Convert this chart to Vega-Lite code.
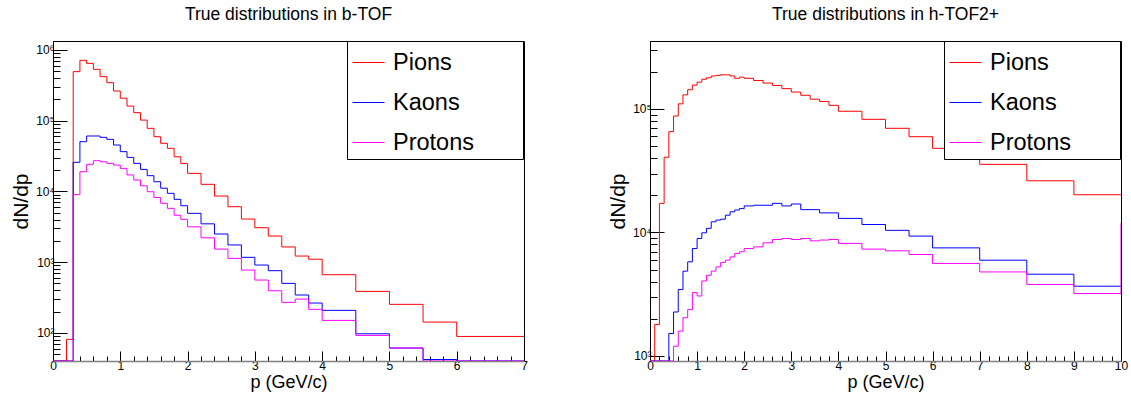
{
  "$schema": "https://vega.github.io/schema/vega-lite/v6.json",
  "background": "white",
  "padding": {"left": 9, "top": 5, "right": 5, "bottom": 5},
  "config": {
    "font": "Liberation Sans",
    "view": {"stroke": "#000", "strokeWidth": 1},
    "axis": {"grid": false, "labelFont": "Liberation Sans", "labelColor": "#000", "labelFontSize": 12, "tickColor": "#000", "titleColor": "#000", "titleFont": "Liberation Sans", "titleFontWeight": "normal", "labelOverlap": false, "labelBound": false, "labelFlush": false},
    "title": {"fontSize": 17.5, "fontWeight": "normal", "font": "Liberation Sans", "color": "#000", "baseline": "alphabetic", "offset": 17},
    "legend": {"orient": "none", "legendX": 294, "legendY": 0, "titleOrient": "right", "titleOpacity": 0, "titleFontSize": 2, "titlePadding": 36, "symbolType": "stroke", "symbolSize": 1024, "symbolStrokeWidth": 1, "labelFontSize": 23.5, "labelFont": "Liberation Sans", "labelColor": "#000", "labelOffset": 8, "rowPadding": 12, "padding": 5, "strokeColor": "#000", "fillColor": "#fff"}
  },
  "datasets": {
    "btof": [
      {"species": "Pions", "p": 0, "dndp": 0},
      {"species": "Pions", "p": 0.1, "dndp": 0},
      {"species": "Pions", "p": 0.2, "dndp": 81},
      {"species": "Pions", "p": 0.3, "dndp": 494000},
      {"species": "Pions", "p": 0.4, "dndp": 714000},
      {"species": "Pions", "p": 0.5, "dndp": 648000},
      {"species": "Pions", "p": 0.6, "dndp": 533000},
      {"species": "Pions", "p": 0.7, "dndp": 420000},
      {"species": "Pions", "p": 0.8, "dndp": 345000},
      {"species": "Pions", "p": 0.9, "dndp": 263000},
      {"species": "Pions", "p": 1.0, "dndp": 208000},
      {"species": "Pions", "p": 1.1, "dndp": 161000},
      {"species": "Pions", "p": 1.2, "dndp": 130000},
      {"species": "Pions", "p": 1.3, "dndp": 102000},
      {"species": "Pions", "p": 1.4, "dndp": 78000},
      {"species": "Pions", "p": 1.5, "dndp": 59400},
      {"species": "Pions", "p": 1.6, "dndp": 47900},
      {"species": "Pions", "p": 1.7, "dndp": 40700},
      {"species": "Pions", "p": 1.8, "dndp": 30900},
      {"species": "Pions", "p": 1.9, "dndp": 24900},
      {"species": "Pions", "p": 2.0, "dndp": 18000},
      {"species": "Pions", "p": 2.2, "dndp": 12600},
      {"species": "Pions", "p": 2.4, "dndp": 8600},
      {"species": "Pions", "p": 2.6, "dndp": 6080},
      {"species": "Pions", "p": 2.8, "dndp": 4070},
      {"species": "Pions", "p": 3.0, "dndp": 3070},
      {"species": "Pions", "p": 3.2, "dndp": 2340},
      {"species": "Pions", "p": 3.4, "dndp": 1640},
      {"species": "Pions", "p": 3.6, "dndp": 1220},
      {"species": "Pions", "p": 3.8, "dndp": 1100},
      {"species": "Pions", "p": 4.0, "dndp": 664},
      {"species": "Pions", "p": 4.5, "dndp": 386},
      {"species": "Pions", "p": 5.0, "dndp": 253},
      {"species": "Pions", "p": 5.5, "dndp": 142},
      {"species": "Pions", "p": 6.0, "dndp": 89},
      {"species": "Pions", "p": 7.0, "dndp": 89},
      {"species": "Kaons", "p": 0, "dndp": 0},
      {"species": "Kaons", "p": 0.1, "dndp": 0},
      {"species": "Kaons", "p": 0.2, "dndp": 0},
      {"species": "Kaons", "p": 0.3, "dndp": 25800},
      {"species": "Kaons", "p": 0.4, "dndp": 50500},
      {"species": "Kaons", "p": 0.5, "dndp": 60800},
      {"species": "Kaons", "p": 0.6, "dndp": 60800},
      {"species": "Kaons", "p": 0.7, "dndp": 58200},
      {"species": "Kaons", "p": 0.8, "dndp": 54500},
      {"species": "Kaons", "p": 0.9, "dndp": 45300},
      {"species": "Kaons", "p": 1.0, "dndp": 36500},
      {"species": "Kaons", "p": 1.1, "dndp": 30300},
      {"species": "Kaons", "p": 1.2, "dndp": 24900},
      {"species": "Kaons", "p": 1.3, "dndp": 20500},
      {"species": "Kaons", "p": 1.4, "dndp": 16700},
      {"species": "Kaons", "p": 1.5, "dndp": 13700},
      {"species": "Kaons", "p": 1.6, "dndp": 11100},
      {"species": "Kaons", "p": 1.7, "dndp": 9400},
      {"species": "Kaons", "p": 1.8, "dndp": 7730},
      {"species": "Kaons", "p": 1.9, "dndp": 6280},
      {"species": "Kaons", "p": 2.0, "dndp": 4900},
      {"species": "Kaons", "p": 2.2, "dndp": 3480},
      {"species": "Kaons", "p": 2.4, "dndp": 2500},
      {"species": "Kaons", "p": 2.6, "dndp": 1750},
      {"species": "Kaons", "p": 2.8, "dndp": 1170},
      {"species": "Kaons", "p": 3.0, "dndp": 910},
      {"species": "Kaons", "p": 3.2, "dndp": 757},
      {"species": "Kaons", "p": 3.4, "dndp": 501},
      {"species": "Kaons", "p": 3.6, "dndp": 343},
      {"species": "Kaons", "p": 3.8, "dndp": 264},
      {"species": "Kaons", "p": 4.0, "dndp": 208},
      {"species": "Kaons", "p": 4.5, "dndp": 97},
      {"species": "Kaons", "p": 5.0, "dndp": 61},
      {"species": "Kaons", "p": 5.5, "dndp": 42},
      {"species": "Kaons", "p": 6.0, "dndp": 0},
      {"species": "Kaons", "p": 7.0, "dndp": 0},
      {"species": "Protons", "p": 0, "dndp": 0},
      {"species": "Protons", "p": 0.1, "dndp": 0},
      {"species": "Protons", "p": 0.2, "dndp": 0},
      {"species": "Protons", "p": 0.3, "dndp": 9000},
      {"species": "Protons", "p": 0.4, "dndp": 19000},
      {"species": "Protons", "p": 0.5, "dndp": 24200},
      {"species": "Protons", "p": 0.6, "dndp": 27200},
      {"species": "Protons", "p": 0.7, "dndp": 26300},
      {"species": "Protons", "p": 0.8, "dndp": 24900},
      {"species": "Protons", "p": 0.9, "dndp": 23600},
      {"species": "Protons", "p": 1.0, "dndp": 21200},
      {"species": "Protons", "p": 1.1, "dndp": 17100},
      {"species": "Protons", "p": 1.2, "dndp": 14500},
      {"species": "Protons", "p": 1.3, "dndp": 12000},
      {"species": "Protons", "p": 1.4, "dndp": 9900},
      {"species": "Protons", "p": 1.5, "dndp": 8200},
      {"species": "Protons", "p": 1.6, "dndp": 6800},
      {"species": "Protons", "p": 1.7, "dndp": 5760},
      {"species": "Protons", "p": 1.8, "dndp": 4600},
      {"species": "Protons", "p": 1.9, "dndp": 4030},
      {"species": "Protons", "p": 2.0, "dndp": 3160},
      {"species": "Protons", "p": 2.2, "dndp": 2210},
      {"species": "Protons", "p": 2.4, "dndp": 1530},
      {"species": "Protons", "p": 2.6, "dndp": 1130},
      {"species": "Protons", "p": 2.8, "dndp": 773},
      {"species": "Protons", "p": 3.0, "dndp": 558},
      {"species": "Protons", "p": 3.2, "dndp": 394},
      {"species": "Protons", "p": 3.4, "dndp": 270},
      {"species": "Protons", "p": 3.6, "dndp": 300},
      {"species": "Protons", "p": 3.8, "dndp": 215},
      {"species": "Protons", "p": 4.0, "dndp": 150},
      {"species": "Protons", "p": 4.5, "dndp": 92},
      {"species": "Protons", "p": 5.0, "dndp": 61},
      {"species": "Protons", "p": 5.5, "dndp": 0},
      {"species": "Protons", "p": 6.0, "dndp": 0},
      {"species": "Protons", "p": 7.0, "dndp": 0}
    ],
    "htof": [
      {"species": "Pions", "p": 0, "dndp": 0},
      {"species": "Pions", "p": 0.1, "dndp": 1800},
      {"species": "Pions", "p": 0.2, "dndp": 17200},
      {"species": "Pions", "p": 0.3, "dndp": 40600},
      {"species": "Pions", "p": 0.4, "dndp": 65500},
      {"species": "Pions", "p": 0.5, "dndp": 87700},
      {"species": "Pions", "p": 0.6, "dndp": 110000},
      {"species": "Pions", "p": 0.7, "dndp": 130000},
      {"species": "Pions", "p": 0.8, "dndp": 143000},
      {"species": "Pions", "p": 0.9, "dndp": 156000},
      {"species": "Pions", "p": 1.0, "dndp": 165000},
      {"species": "Pions", "p": 1.1, "dndp": 174000},
      {"species": "Pions", "p": 1.2, "dndp": 179000},
      {"species": "Pions", "p": 1.3, "dndp": 185000},
      {"species": "Pions", "p": 1.4, "dndp": 187000},
      {"species": "Pions", "p": 1.5, "dndp": 189000},
      {"species": "Pions", "p": 1.6, "dndp": 189000},
      {"species": "Pions", "p": 1.7, "dndp": 185000},
      {"species": "Pions", "p": 1.8, "dndp": 177000},
      {"species": "Pions", "p": 1.9, "dndp": 181000},
      {"species": "Pions", "p": 2.0, "dndp": 177000},
      {"species": "Pions", "p": 2.2, "dndp": 170000},
      {"species": "Pions", "p": 2.4, "dndp": 162000},
      {"species": "Pions", "p": 2.6, "dndp": 155000},
      {"species": "Pions", "p": 2.8, "dndp": 146000},
      {"species": "Pions", "p": 3.0, "dndp": 137000},
      {"species": "Pions", "p": 3.2, "dndp": 129000},
      {"species": "Pions", "p": 3.4, "dndp": 120000},
      {"species": "Pions", "p": 3.6, "dndp": 115000},
      {"species": "Pions", "p": 3.8, "dndp": 107000},
      {"species": "Pions", "p": 4.0, "dndp": 95800},
      {"species": "Pions", "p": 4.5, "dndp": 82400},
      {"species": "Pions", "p": 5.0, "dndp": 69700},
      {"species": "Pions", "p": 5.5, "dndp": 59600},
      {"species": "Pions", "p": 6.0, "dndp": 48000},
      {"species": "Pions", "p": 7.0, "dndp": 35600},
      {"species": "Pions", "p": 8.0, "dndp": 26200},
      {"species": "Pions", "p": 9.0, "dndp": 20200},
      {"species": "Pions", "p": 10.0, "dndp": 20200},
      {"species": "Kaons", "p": 0, "dndp": 0},
      {"species": "Kaons", "p": 0.1, "dndp": 0},
      {"species": "Kaons", "p": 0.2, "dndp": 0},
      {"species": "Kaons", "p": 0.3, "dndp": 0},
      {"species": "Kaons", "p": 0.4, "dndp": 1520},
      {"species": "Kaons", "p": 0.5, "dndp": 2270},
      {"species": "Kaons", "p": 0.6, "dndp": 3450},
      {"species": "Kaons", "p": 0.7, "dndp": 4860},
      {"species": "Kaons", "p": 0.8, "dndp": 5780},
      {"species": "Kaons", "p": 0.9, "dndp": 7410},
      {"species": "Kaons", "p": 1.0, "dndp": 8930},
      {"species": "Kaons", "p": 1.1, "dndp": 9930},
      {"species": "Kaons", "p": 1.2, "dndp": 10800},
      {"species": "Kaons", "p": 1.3, "dndp": 12200},
      {"species": "Kaons", "p": 1.4, "dndp": 12600},
      {"species": "Kaons", "p": 1.5, "dndp": 12800},
      {"species": "Kaons", "p": 1.6, "dndp": 13800},
      {"species": "Kaons", "p": 1.7, "dndp": 14700},
      {"species": "Kaons", "p": 1.8, "dndp": 15200},
      {"species": "Kaons", "p": 1.9, "dndp": 15600},
      {"species": "Kaons", "p": 2.0, "dndp": 16400},
      {"species": "Kaons", "p": 2.2, "dndp": 16600},
      {"species": "Kaons", "p": 2.4, "dndp": 16600},
      {"species": "Kaons", "p": 2.6, "dndp": 17200},
      {"species": "Kaons", "p": 2.8, "dndp": 16400},
      {"species": "Kaons", "p": 3.0, "dndp": 17000},
      {"species": "Kaons", "p": 3.2, "dndp": 15300},
      {"species": "Kaons", "p": 3.4, "dndp": 15300},
      {"species": "Kaons", "p": 3.6, "dndp": 14400},
      {"species": "Kaons", "p": 3.8, "dndp": 14400},
      {"species": "Kaons", "p": 4.0, "dndp": 13000},
      {"species": "Kaons", "p": 4.5, "dndp": 11600},
      {"species": "Kaons", "p": 5.0, "dndp": 10400},
      {"species": "Kaons", "p": 5.5, "dndp": 9340},
      {"species": "Kaons", "p": 6.0, "dndp": 7500},
      {"species": "Kaons", "p": 7.0, "dndp": 5960},
      {"species": "Kaons", "p": 8.0, "dndp": 4590},
      {"species": "Kaons", "p": 9.0, "dndp": 3670},
      {"species": "Kaons", "p": 10.0, "dndp": 3670},
      {"species": "Protons", "p": 0, "dndp": 0},
      {"species": "Protons", "p": 0.1, "dndp": 0},
      {"species": "Protons", "p": 0.2, "dndp": 0},
      {"species": "Protons", "p": 0.3, "dndp": 0},
      {"species": "Protons", "p": 0.4, "dndp": 0},
      {"species": "Protons", "p": 0.5, "dndp": 1200},
      {"species": "Protons", "p": 0.6, "dndp": 1590},
      {"species": "Protons", "p": 0.7, "dndp": 2040},
      {"species": "Protons", "p": 0.8, "dndp": 2370},
      {"species": "Protons", "p": 0.9, "dndp": 3260},
      {"species": "Protons", "p": 1.0, "dndp": 3060},
      {"species": "Protons", "p": 1.1, "dndp": 4050},
      {"species": "Protons", "p": 1.2, "dndp": 4500},
      {"species": "Protons", "p": 1.3, "dndp": 4860},
      {"species": "Protons", "p": 1.4, "dndp": 5260},
      {"species": "Protons", "p": 1.5, "dndp": 5720},
      {"species": "Protons", "p": 1.6, "dndp": 5960},
      {"species": "Protons", "p": 1.7, "dndp": 6340},
      {"species": "Protons", "p": 1.8, "dndp": 6760},
      {"species": "Protons", "p": 1.9, "dndp": 6970},
      {"species": "Protons", "p": 2.0, "dndp": 7410},
      {"species": "Protons", "p": 2.2, "dndp": 7640},
      {"species": "Protons", "p": 2.4, "dndp": 8240},
      {"species": "Protons", "p": 2.6, "dndp": 8770},
      {"species": "Protons", "p": 2.8, "dndp": 8930},
      {"species": "Protons", "p": 3.0, "dndp": 8770},
      {"species": "Protons", "p": 3.2, "dndp": 8930},
      {"species": "Protons", "p": 3.4, "dndp": 8550},
      {"species": "Protons", "p": 3.6, "dndp": 8680},
      {"species": "Protons", "p": 3.8, "dndp": 8770},
      {"species": "Protons", "p": 4.0, "dndp": 8150},
      {"species": "Protons", "p": 4.5, "dndp": 7330},
      {"species": "Protons", "p": 5.0, "dndp": 7100},
      {"species": "Protons", "p": 5.5, "dndp": 6630},
      {"species": "Protons", "p": 6.0, "dndp": 5610},
      {"species": "Protons", "p": 7.0, "dndp": 4790},
      {"species": "Protons", "p": 8.0, "dndp": 3790},
      {"species": "Protons", "p": 9.0, "dndp": 3200},
      {"species": "Protons", "p": 10.0, "dndp": 12000}
    ]
  },
  "spacing": 126,
  "bounds": "flush",
  "resolve": {"scale": {"color": "independent"}, "legend": {"color": "independent"}},
  "hconcat": [
    {
      "width": 471,
      "height": 320,
      "title": "True distributions in b-TOF",
      "data": {"name": "btof"},
      "mark": {"type": "line", "interpolate": "step-after", "strokeWidth": 1, "invalid": "show", "clip": true},
      "encoding": {
        "x": {"field": "p", "type": "quantitative", "scale": {"domain": [0, 7], "nice": false, "zero": false},
          "axis": {"title": "p (GeV/c)", "titleFontSize": 18, "titlePadding": -3, "labelPadding": 9, "domainColor": "#808080", "domainWidth": 1.5,
            "values": [0,0.2,0.4,0.6,0.8,1,1.2,1.4,1.6,1.8,2,2.2,2.4,2.6,2.8,3,3.2,3.4,3.6,3.8,4,4.2,4.4,4.6,4.8,5,5.2,5.4,5.6,5.8,6,6.2,6.4,6.6,6.8,7],
            "labelExpr": "abs(datum.value - round(datum.value)) < 0.001 ? '' + round(datum.value) : ''",
            "tickSize": {"condition": {"test": "abs(datum.value - round(datum.value)) < 0.001", "value": -10}, "value": -5}}},
        "y": {"field": "dndp", "type": "quantitative", "scale": {"type": "log", "domain": [40, 1340000], "clamp": true, "nice": false, "zero": false},
          "axis": {"title": "dN/dp", "titleFontSize": 21, "titlePadding": 4, "labelPadding": 13, "domainColor": "#000",
            "values": [50,60,70,80,90,100,200,300,400,500,600,700,800,900,1000,2000,3000,4000,5000,6000,7000,8000,9000,10000,20000,30000,40000,50000,60000,70000,80000,90000,100000,200000,300000,400000,500000,600000,700000,800000,900000,1000000],
            "labelExpr": "abs(log(datum.value)/LN10 - round(log(datum.value)/LN10)) < 0.001 ? '10' + ['⁰','¹','²','³','⁴','⁵','⁶','⁷'][round(log(datum.value)/LN10)] : ''",
            "tickSize": {"condition": {"test": "abs(log(datum.value)/LN10 - round(log(datum.value)/LN10)) < 0.001", "value": -14}, "value": -7}}},
        "color": {"field": "species", "type": "nominal", "scale": {"domain": ["Pions", "Kaons", "Protons"], "range": ["#ff0000", "#0000ff", "#ff00ff"]}, "legend": {"title": "Species"}}
      }
    },
    {
      "width": 471,
      "height": 320,
      "title": "True distributions in h-TOF2+",
      "data": {"name": "htof"},
      "mark": {"type": "line", "interpolate": "step-after", "strokeWidth": 1, "invalid": "show", "clip": true},
      "encoding": {
        "x": {"field": "p", "type": "quantitative", "scale": {"domain": [0, 10], "nice": false, "zero": false},
          "axis": {"title": "p (GeV/c)", "titleFontSize": 18, "titlePadding": -3, "labelPadding": 9, "domainColor": "#808080", "domainWidth": 1.5,
            "values": [0,0.2,0.4,0.6,0.8,1,1.2,1.4,1.6,1.8,2,2.2,2.4,2.6,2.8,3,3.2,3.4,3.6,3.8,4,4.2,4.4,4.6,4.8,5,5.2,5.4,5.6,5.8,6,6.2,6.4,6.6,6.8,7,7.2,7.4,7.6,7.8,8,8.2,8.4,8.6,8.8,9,9.2,9.4,9.6,9.8,10],
            "labelExpr": "abs(datum.value - round(datum.value)) < 0.001 ? '' + round(datum.value) : ''",
            "tickSize": {"condition": {"test": "abs(datum.value - round(datum.value)) < 0.001", "value": -10}, "value": -5}}},
        "y": {"field": "dndp", "type": "quantitative", "scale": {"type": "log", "domain": [910, 355000], "clamp": true, "nice": false, "zero": false},
          "axis": {"title": "dN/dp", "titleFontSize": 21, "titlePadding": 4, "labelPadding": 13, "domainColor": "#000",
            "values": [1000,2000,3000,4000,5000,6000,7000,8000,9000,10000,20000,30000,40000,50000,60000,70000,80000,90000,100000,200000,300000],
            "labelExpr": "abs(log(datum.value)/LN10 - round(log(datum.value)/LN10)) < 0.001 ? '10' + ['⁰','¹','²','³','⁴','⁵','⁶','⁷'][round(log(datum.value)/LN10)] : ''",
            "tickSize": {"condition": {"test": "abs(log(datum.value)/LN10 - round(log(datum.value)/LN10)) < 0.001", "value": -14}, "value": -7}}},
        "color": {"field": "species", "type": "nominal", "scale": {"domain": ["Pions", "Kaons", "Protons"], "range": ["#ff0000", "#0000ff", "#ff00ff"]}, "legend": {"title": "Species"}}
      }
    }
  ]
}
